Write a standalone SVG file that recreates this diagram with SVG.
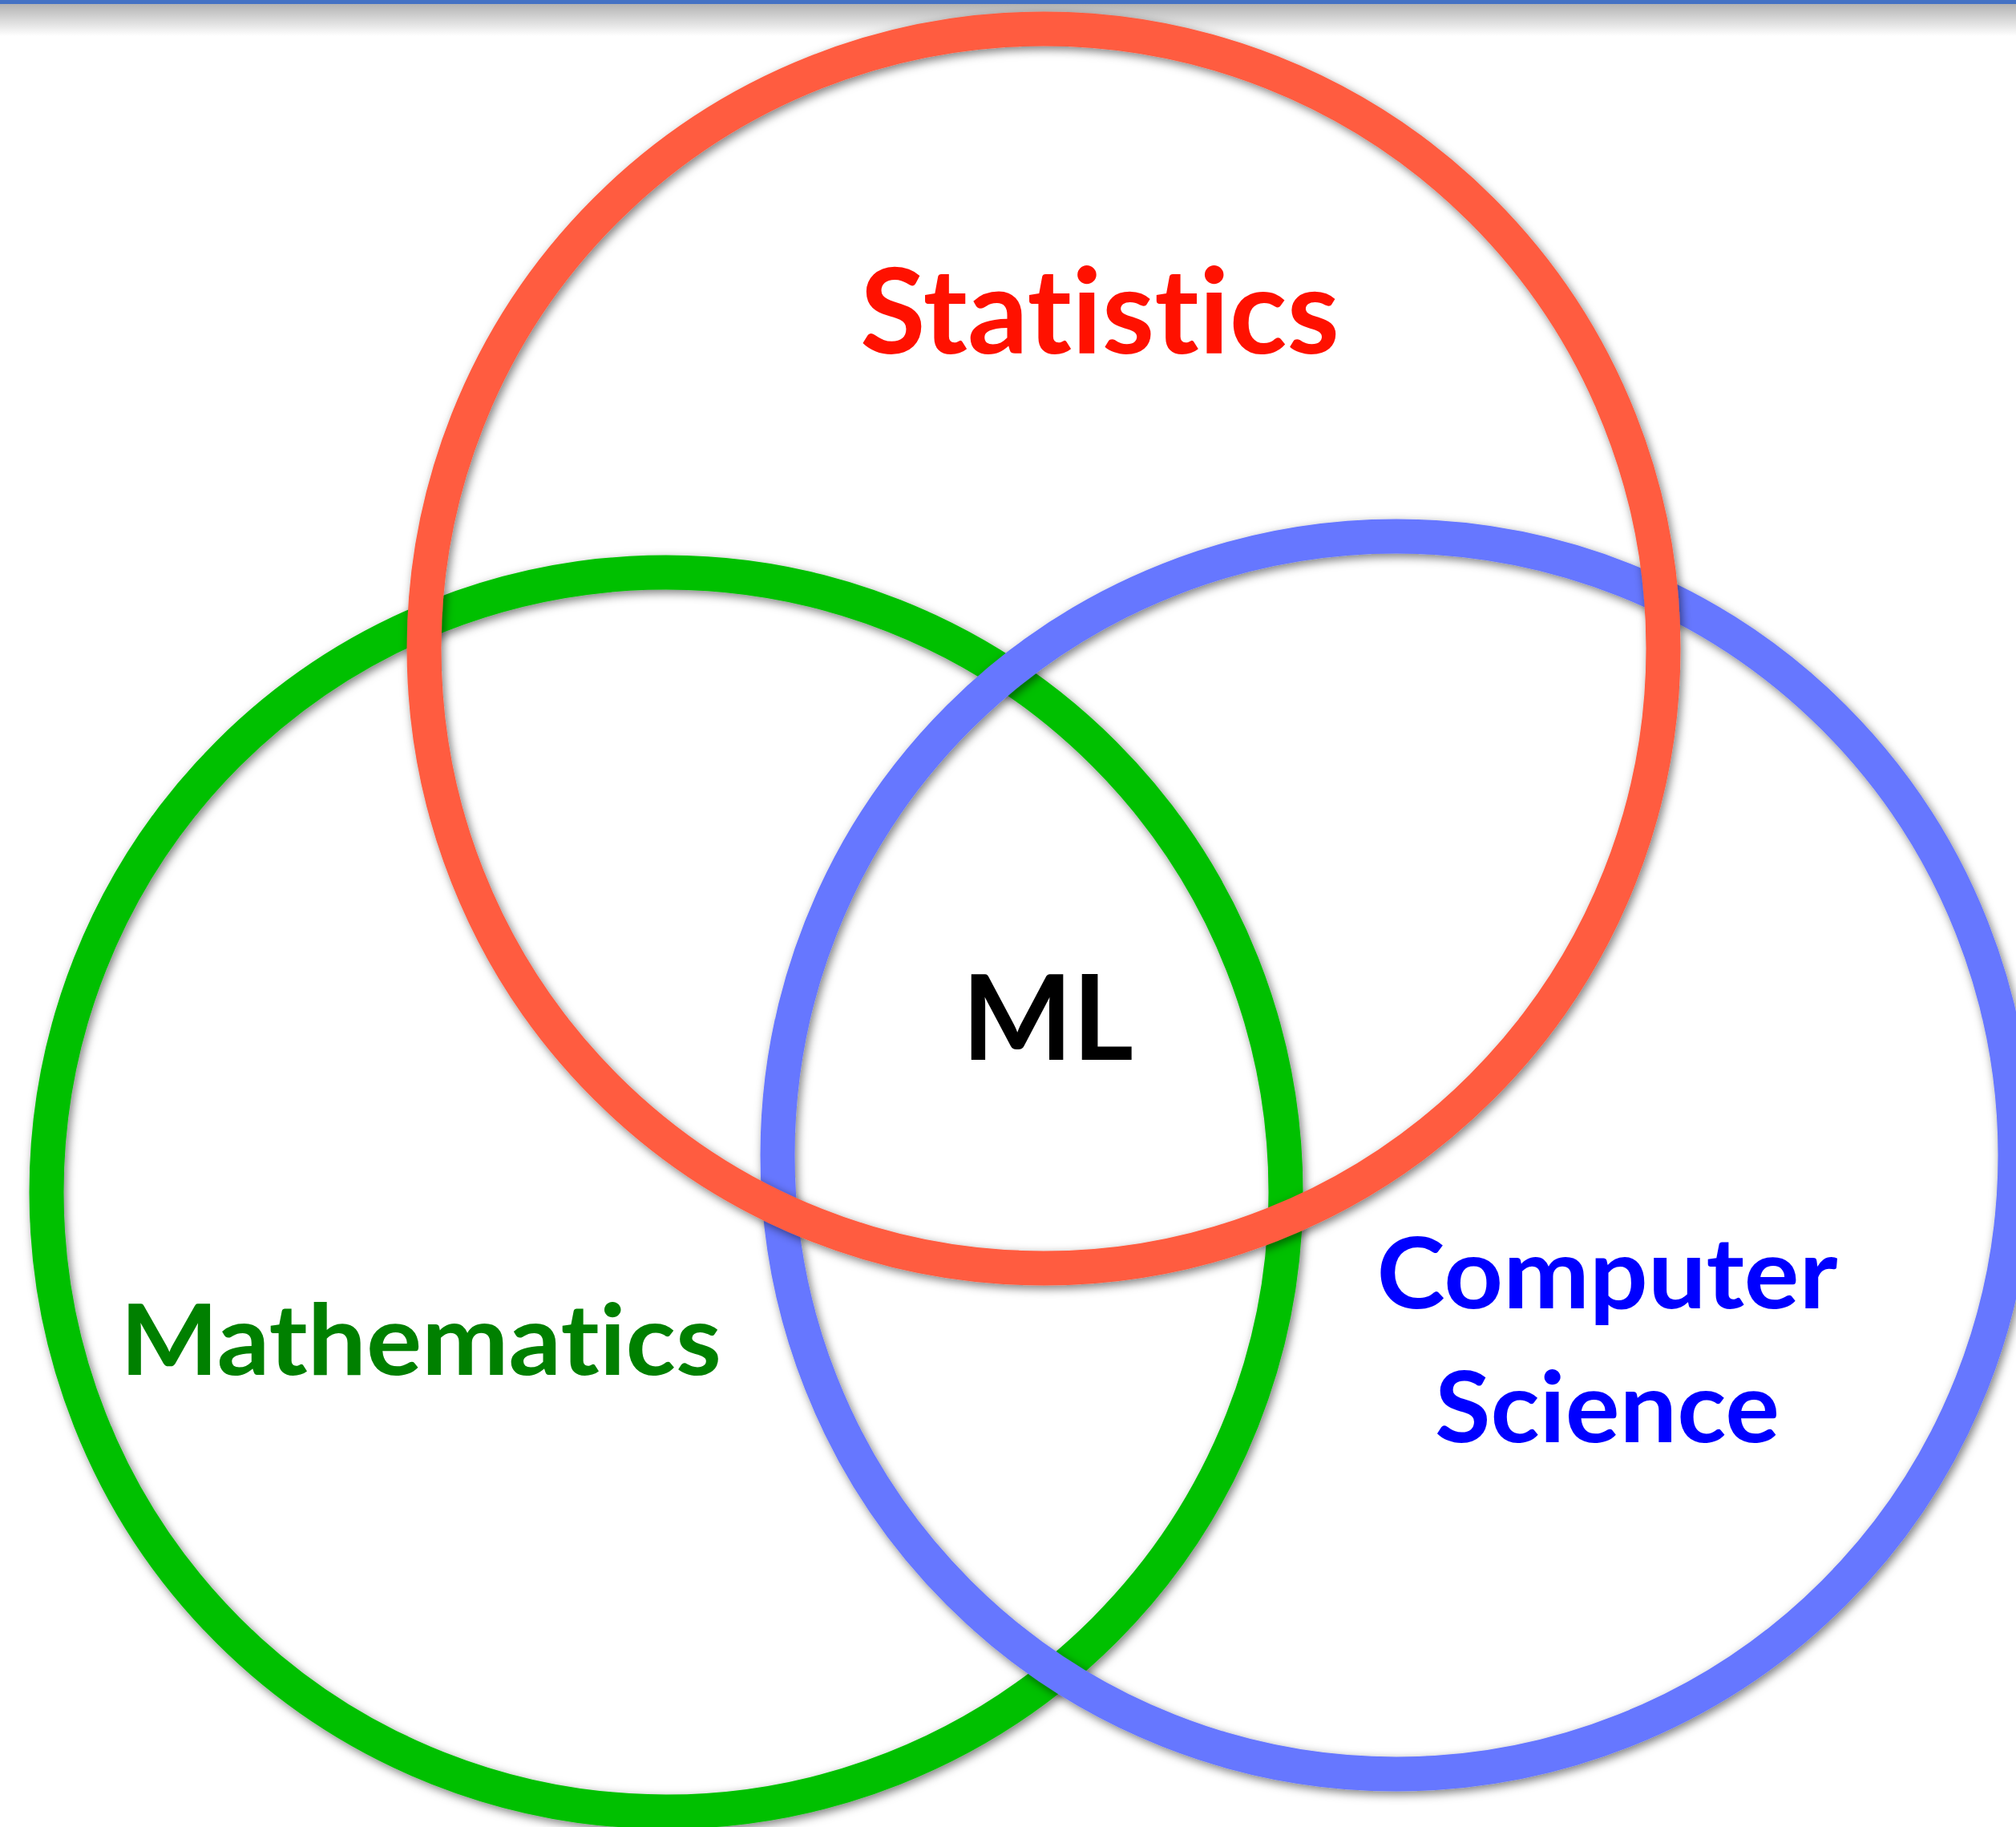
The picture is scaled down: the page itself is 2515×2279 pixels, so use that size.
<svg xmlns="http://www.w3.org/2000/svg" width="2515" height="2279" viewBox="0 0 2515 2279">
  <style>
    .ring { fill: none; stroke-width: 43; filter: url(#shadow); }
    .lbl { font-family: Lato, Carlito, "Open Sans", "Liberation Sans", sans-serif; font-weight: bold; font-variant-ligatures: none; font-feature-settings: "liga" 0, "clig" 0, "dlig" 0; }
  </style>
  <defs>
    <filter id="shadow" x="-10%" y="-10%" width="120%" height="120%">
      <feDropShadow dx="3" dy="4" stdDeviation="6" flood-color="#000" flood-opacity="0.5"/>
    </filter>
    <linearGradient id="topShade" x1="0" y1="0" x2="0" y2="1">
      <stop offset="0" stop-color="#000" stop-opacity="0.3"/>
      <stop offset="1" stop-color="#000" stop-opacity="0"/>
    </linearGradient>
  </defs>
  <rect x="0" y="0" width="2515" height="2279" fill="#ffffff"/>
  <rect x="0" y="5" width="2515" height="40" fill="url(#topShade)"/>
  <rect x="0" y="0" width="2515" height="5" fill="#4472C4"/>

  <g id="mathematics">
    <circle class="ring" cx="831" cy="1487" r="773" stroke="#00C000"/>
    <text class="lbl" x="150" y="1715" font-size="123" fill="#008000" textLength="750" lengthAdjust="spacingAndGlyphs">Mathematics</text>
  </g>
  <g id="computer-science">
    <circle class="ring" cx="1742" cy="1441" r="772" stroke="#6677FF"/>
    <text class="lbl" x="2005" y="1632" font-size="123" fill="#0000FF" text-anchor="middle" textLength="575" lengthAdjust="spacingAndGlyphs">Computer</text>
    <text class="lbl" x="2005" y="1799" font-size="123" fill="#0000FF" text-anchor="middle" textLength="430" lengthAdjust="spacingAndGlyphs">Science</text>
  </g>
  <g id="statistics">
    <circle class="ring" cx="1302" cy="809" r="773" stroke="#FF5C40"/>
    <text class="lbl" x="1073" y="441" font-size="148" fill="#FF1100" textLength="598" lengthAdjust="spacingAndGlyphs">Statistics</text>
  </g>
  <g id="ml">
    <text class="lbl" x="1200" y="1322" font-size="148" fill="#000000" textLength="214" lengthAdjust="spacingAndGlyphs">ML</text>
  </g>
  <g id="connectors"/>
</svg>
